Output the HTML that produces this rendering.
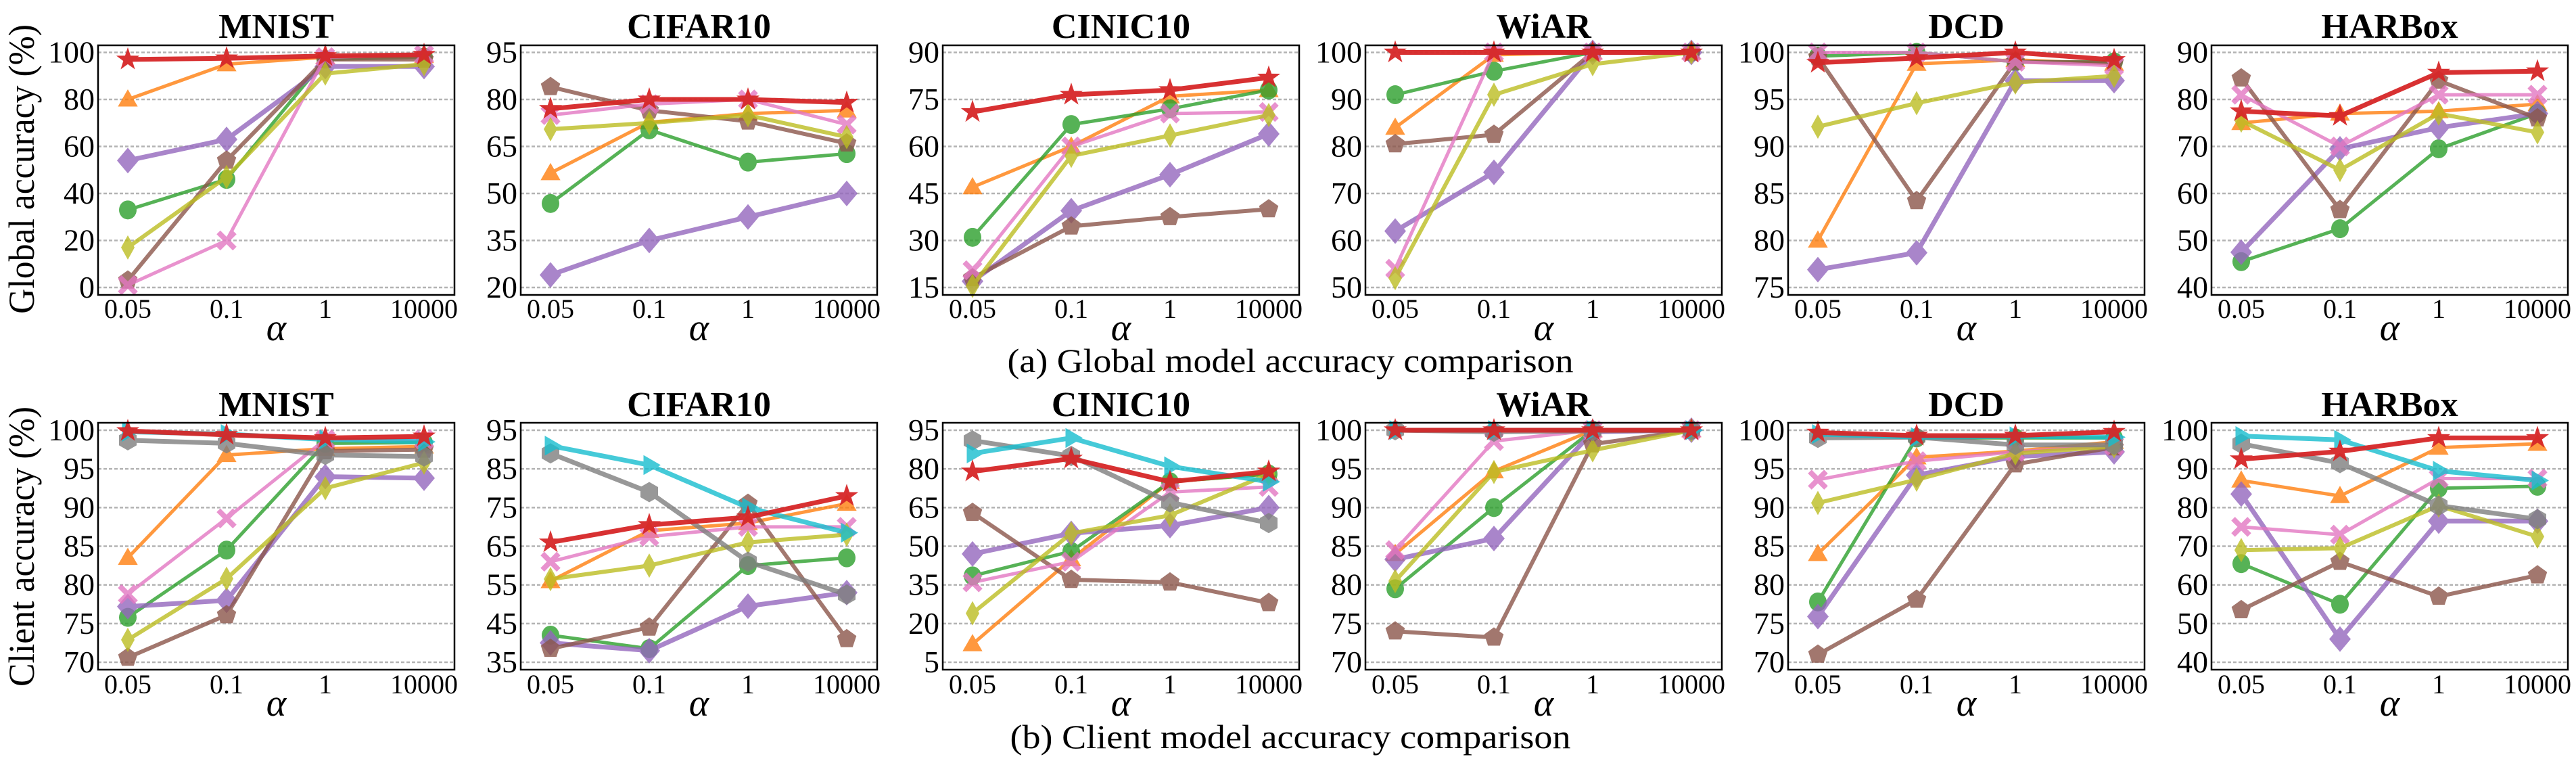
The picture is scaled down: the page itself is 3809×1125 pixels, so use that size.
<!DOCTYPE html>
<html><head><meta charset="utf-8"><style>
html,body{margin:0;padding:0;background:#fff;}
svg{display:block;font-family:"Liberation Serif","DejaVu Serif",serif;}
</style></head><body>
<svg id="fig" width="3809" height="1125" viewBox="0 0 3809 1125" xmlns="http://www.w3.org/2000/svg">
<rect x="0" y="0" width="3809" height="1125" fill="#fff"/>
<text transform="translate(50,250) rotate(-90)" text-anchor="middle" font-size="54" textLength="428" lengthAdjust="spacingAndGlyphs">Global accuracy (%)</text>
<text transform="translate(50,808) rotate(-90)" text-anchor="middle" font-size="54" textLength="414" lengthAdjust="spacingAndGlyphs">Client accuracy (%)</text>
<text x="1908" y="550" text-anchor="middle" font-size="50" textLength="837" lengthAdjust="spacingAndGlyphs">(a)  Global model accuracy comparison</text>
<text x="1908" y="1106" text-anchor="middle" font-size="50" textLength="829" lengthAdjust="spacingAndGlyphs">(b)  Client model accuracy comparison</text>
</svg>
<script>
// ---- data ----
const xCategories = ["0.05", "0.1", "1", "10000"];
const panelTitles = ["MNIST", "CIFAR10", "CINIC10", "WiAR", "DCD", "HARBox"];
const seriesNames = ["orange-triangle", "green-circle", "purple-diamond", "brown-pentagon", "pink-x", "olive-thin-diamond", "gray-hexagon", "cyan-triangle-right", "red-star"];

const globalTicks = [
  [0, 20, 40, 60, 80, 100],
  [20, 35, 50, 65, 80, 95],
  [15, 30, 45, 60, 75, 90],
  [50, 60, 70, 80, 90, 100],
  [75, 80, 85, 90, 95, 100],
  [40, 50, 60, 70, 80, 90]
];
const clientTicks = [
  [70, 75, 80, 85, 90, 95, 100],
  [35, 45, 55, 65, 75, 85, 95],
  [5, 20, 35, 50, 65, 80, 95],
  [70, 75, 80, 85, 90, 95, 100],
  [70, 75, 80, 85, 90, 95, 100],
  [40, 50, 60, 70, 80, 90, 100]
];

// global accuracy (series order: orange, green, purple, brown, pink, olive, gray, cyan, red; null = absent)
const gMNIST = [[80,95,98,98.5],[33,46,97,98],[54,63,94,94],[3,54,97,97],[1,20,98,99],[17,47,91,95],null,null,[97,97.5,98.5,99]];
const gCIFAR10 = [[56.5,72.7,75.5,76.5],[46.8,70.3,60,62.7],[24,35,42.5,50],[84,76.5,73,66],[75,78.5,80,72],[70.5,72.5,75,68],null,null,[77,80,80,79]];
const gCINIC10 = [[47,60,76,78],[31,67,72,78],[17,39.5,51,64],[18,34.5,37.5,40],[20.5,60,70.5,71],[15.5,57,63.5,70],null,null,[71,76.5,78,82]];
const gWiAR = [[84,99.5,100,100],[91,96,100,100],[62,74.5,100,100],[80.5,82.5,100,100],[54,100,100,100],[52,91,97.5,100],null,null,[100,100,100,100]];
const gDCD = [[80,98.8,99.2,98.8],[99.6,100,99,99],[76.9,78.7,97,97],[99.5,84.2,99,98.9],[100,100,99,98.6],[92.1,94.6,96.8,97.5],null,null,[98.9,99.4,100,99.2]];
const gHARBox = [[75,77,77.5,79],[45.5,52.5,69.5,77],[47.5,69.5,74,77],[84.5,56.5,84,76],[81,70,81,81],[75.5,65,77,73],null,null,[77.5,76.5,85.7,86]];

// client accuracy
const cMNIST = [[83.5,96.8,97.6,97.9],[75.8,84.5,98.3,98.4],[77.2,78,94,93.8],[70.6,76.1,97.3,97.5],[78.8,88.6,98.8,98.8],[72.9,80.8,92.5,95.8],[98.7,98.3,96.8,96.6],[99.8,99.5,98.8,98.5],[99.9,99.4,99,99.2]];
const cCIFAR10 = [[56,69,71,76],[42,38.5,60,62],[40,38,49.5,53],[38.5,44,76,41],[61,67.5,70,70],[56.5,60,66,68],[89,79,61,52.5],[91,86,75,68.5],[66,70.5,72.5,78]];
const cCINIC10 = [[12,45,75,78],[38.5,48,75,78],[47,55,58,65],[63,37,36,28],[36,44,71,73],[24,55,62,78],[91,85,67,59],[86,92,81,75],[79,84,75,79]];
const cWiAR = [[84,94.7,100,100],[79.5,90,100,100],[83.3,86,99.8,100],[74,73.2,98.2,100],[84.5,98.6,100,100],[80.5,94.6,97.4,100],[100,99.8,99.9,100],[100,100,100,100],[100,100,100,100]];
const cDCD = [[84,96.5,97.3,98.5],[77.8,99,99,99],[75.9,94.2,96.6,97.2],[71,78.1,95.6,97.8],[93.6,96,97.2,98],[90.6,93.6,97,97.9],[99,99.1,98.1,98.1],[99.5,99.1,99.2,99.1],[99.7,99.3,99.3,99.8]];
const cHARBox = [[87,83,95.5,96.5],[65.5,55,85,85.5],[83.5,46,76.5,76.5],[53.5,66,57,62.5],[75,73,87.5,87.5],[69,69.5,80.5,72.5],[96.5,91.5,80.5,77],[98.5,97.5,89.5,87],[92.5,94.5,98,98]];

const globalData = [gMNIST, gCIFAR10, gCINIC10, gWiAR, gDCD, gHARBox];
const clientData = [cMNIST, cCIFAR10, cCINIC10, cWiAR, cDCD, cHARBox];

// ---- drawing ----
const NS = "http://www.w3.org/2000/svg";
const svg = document.getElementById("fig");
const colors = ["#ff7f0e","#2ca02c","#9467bd","#8c564b","#e377c2","#bcbd22","#7f7f7f","#17becf","#d62728"];
const markers = ["tri","circle","diamond","pent","x","thin","hex","triR","star"];
const lw = [5,5,7,6,5,6,7,7,7];
const panelLeft = [145, 770, 1394, 2019, 2644, 3270];
const panelW = 527;
const rows = [
  {top:67, bottom:436, tTop:77.5, tBot:425, titleY:56, xtY:470, alphaY:503, kind:"global"},
  {top:625, bottom:990, tTop:636, tBot:979, titleY:615, xtY:1025, alphaY:1058, kind:"client"}
];

function mk(tag, attrs, parent){
  const e = document.createElementNS(NS, tag);
  for (const k in attrs) e.setAttribute(k, attrs[k]);
  (parent||svg).appendChild(e);
  return e;
}
function poly(cx, cy, n, r, rot){
  const p=[];
  for(let i=0;i<n;i++){const a=rot+i*2*Math.PI/n;p.push((cx+r*Math.cos(a)).toFixed(1)+","+(cy+r*Math.sin(a)).toFixed(1));}
  return p.join(" ");
}
function drawMarker(g, type, cx, cy, color){
  let e;
  if(type==="circle"){ e = mk("ellipse",{cx:cx,cy:cy,rx:13,ry:14,fill:color},g); }
  else if(type==="tri"){ e = mk("polygon",{points:poly(cx,cy+2,3,17,-Math.PI/2),fill:color},g); }
  else if(type==="triR"){ e = mk("polygon",{points:poly(cx,cy,3,17,0),fill:color},g); }
  else if(type==="pent"){ e = mk("polygon",{points:poly(cx,cy,5,15,-Math.PI/2),fill:color},g); }
  else if(type==="hex"){ e = mk("polygon",{points:poly(cx,cy,6,15,-Math.PI/2),fill:color},g); }
  else if(type==="diamond"){ e = mk("polygon",{points:`${cx},${cy-19} ${cx+16},${cy} ${cx},${cy+19} ${cx-16},${cy}`,fill:color},g); }
  else if(type==="thin"){ e = mk("polygon",{points:`${cx},${cy-18} ${cx+10},${cy} ${cx},${cy+18} ${cx-10},${cy}`,fill:color},g); }
  else if(type==="star"){
    const p=[];for(let i=0;i<10;i++){const r=i%2?7:18;const a=-Math.PI/2+i*Math.PI/5;p.push((cx+r*Math.cos(a)).toFixed(1)+","+(cy+r*Math.sin(a)).toFixed(1));}
    e = mk("polygon",{points:p.join(" "),fill:color},g);
  }
  else if(type==="x"){
    const d=12,w=5.5;
    e = mk("path",{d:`M${cx-d-w/2},${cy-d+w/2} L${cx-d+w/2},${cy-d-w/2} L${cx},${cy-w} L${cx+d-w/2},${cy-d-w/2} L${cx+d+w/2},${cy-d+w/2} L${cx+w},${cy} L${cx+d+w/2},${cy+d-w/2} L${cx+d-w/2},${cy+d+w/2} L${cx},${cy+w} L${cx-d+w/2},${cy+d+w/2} L${cx-d-w/2},${cy+d-w/2} L${cx-w},${cy} Z`,fill:color},g);
  }
  
  
}

rows.forEach((row, ri) => {
  const tickSets = ri===0 ? globalTicks : clientTicks;
  const dataSets = ri===0 ? globalData : clientData;
  panelTitles.forEach((title, pi) => {
    const L = panelLeft[pi], R = L + panelW;
    const ticks = tickSets[pi];
    const tmin = ticks[0], tmax = ticks[ticks.length-1];
    const yScale = v => row.tTop + (tmax - v) / (tmax - tmin) * (row.tBot - row.tTop);
    const xScale = i => L + 44 + i * 146;
    const g = mk("g",{});
    
    
    const t = mk("text",{x:L+panelW/2,y:row.titleY,"text-anchor":"middle","font-size":52,"font-weight":"bold"},g);
    t.textContent = title;
    
    
    ticks.forEach(v => {
      const y = yScale(v);
      const gl = mk("line",{x1:L,x2:R,y1:y,y2:y,stroke:"#b3b3b3","stroke-width":2.5,"stroke-dasharray":"5,3"},g);
      
      
      const tl = mk("text",{x:L-5,y:y+15,"text-anchor":"end","font-size":46},g);
      tl.textContent = v;
      
      
    });
    xCategories.forEach((c,i) => {
      const xl = mk("text",{x:xScale(i),y:row.xtY,"text-anchor":"middle","font-size":40},g);
      xl.textContent = c;
      
      
    });
    const al = mk("text",{x:L+panelW/2,y:row.alphaY,"text-anchor":"middle","font-size":56,"font-style":"italic"},g);
    al.textContent = "α";
    
    
    const data = dataSets[pi];
    data.forEach((vals, si) => {
      if(!vals) return;
      const sg = mk("g",{opacity: si===8 ? 0.95 : 0.8},g);
      
      
      const pts = vals.map((v,i)=>xScale(i).toFixed(1)+","+yScale(v).toFixed(1)).join(" ");
      const ln = mk("polyline",{points:pts,fill:"none",stroke:colors[si],"stroke-width":lw[si],"stroke-linejoin":"round"},sg);
      
      
      vals.forEach((v,i)=>drawMarker(sg, markers[si], xScale(i), yScale(v), colors[si]));
    });
    const fr = mk("rect",{x:L,y:row.top,width:panelW,height:row.bottom-row.top,fill:"none",stroke:"#000","stroke-width":2.5},g);
    
    
  });
});
</script>
</body></html>
